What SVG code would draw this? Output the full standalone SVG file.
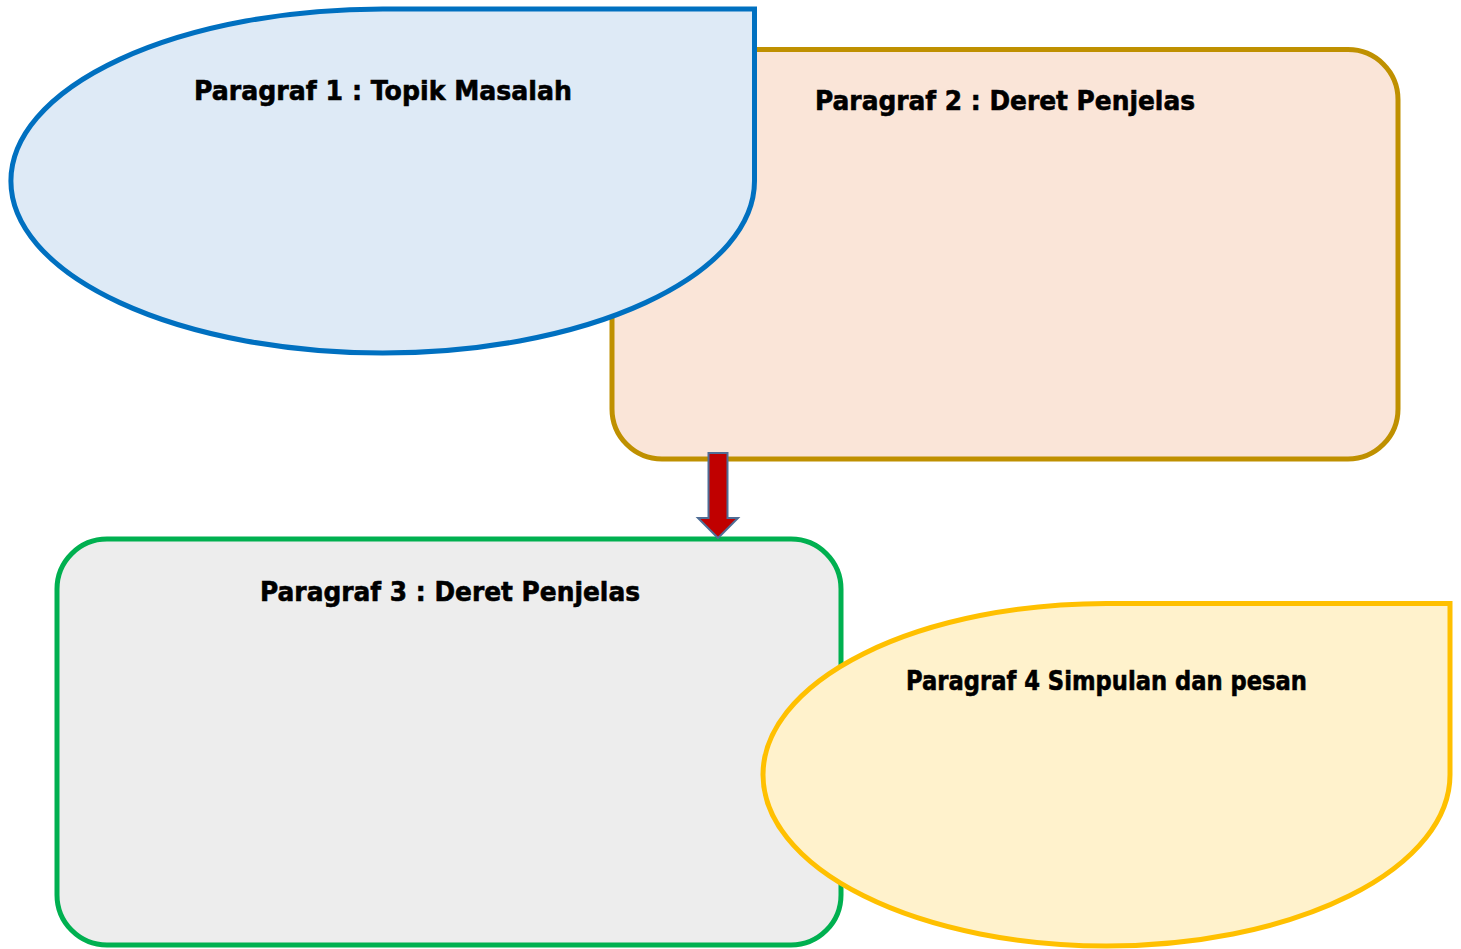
<svg xmlns="http://www.w3.org/2000/svg" width="1461" height="949" viewBox="0 0 1461 949">
<style>
.lbl{font-family:"DejaVu Sans","Verdana",sans-serif;font-weight:bold;font-size:26px;fill:#000;stroke:#000;stroke-width:0.6}
.sh{stroke-width:5}
</style>
<rect width="1461" height="949" fill="#fff"/>
<g id="node-p2">
<rect class="sh" x="612" y="49.5" width="786" height="409.5" rx="50" ry="50" fill="#FAE5D8" stroke="#BF9000"/>
<text class="lbl" x="815" y="110" textLength="380" lengthAdjust="spacingAndGlyphs">Paragraf 2 : Deret Penjelas</text>
</g>
<g id="node-p1">
<path class="sh" d="M382.7,9 L754.5,9 L754.5,181 A371.8,172 0 0 1 382.7,353 A371.8,172 0 0 1 10.9,181 A371.8,172 0 0 1 382.7,9 Z" fill="#DEEAF6" stroke="#0070C0"/>
<text class="lbl" x="194" y="100" textLength="378" lengthAdjust="spacingAndGlyphs">Paragraf 1 : Topik Masalah</text>
</g>
<g id="node-p3">
<rect class="sh" x="57" y="539" width="784" height="406" rx="50" ry="50" fill="#EDEDED" stroke="#00B050"/>
<text class="lbl" x="260" y="600.5" textLength="380" lengthAdjust="spacingAndGlyphs">Paragraf 3 : Deret Penjelas</text>
</g>
<g id="node-p4">
<path class="sh" d="M1106.5,603.5 L1450,603.5 L1450,774.75 A343.5,171.25 0 0 1 1106.5,946 A343.5,171.25 0 0 1 763,774.75 A343.5,171.25 0 0 1 1106.5,603.5 Z" fill="#FFF2CC" stroke="#FFC000"/>
<text class="lbl" x="906" y="690" textLength="401" lengthAdjust="spacingAndGlyphs">Paragraf 4 Simpulan dan pesan</text>
</g>
<g id="connectors">
<path d="M708.5,453 L727.5,453 L727.5,518 L738,518 L718,538 L698,518 L708.5,518 Z" fill="#C00000" stroke="#4F6D95" stroke-width="2" stroke-linejoin="miter"/>
</g>
</svg>
